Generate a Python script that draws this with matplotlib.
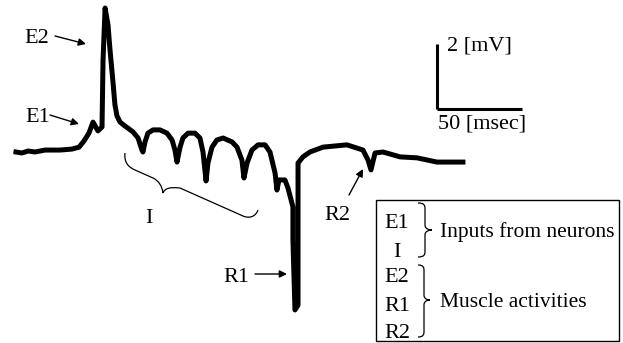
import numpy as np
import matplotlib.pyplot as plt
from matplotlib.path import Path
from matplotlib.patches import PathPatch, Rectangle

W, H = 623, 343

time_ms = [0, 3.5, 7.1, 11.2, 17.1, 25.9, 32.9, 37.1, 40.0, 42.9, 45.3, 48.2,
           50.6, 51.2, 52.4, 54.1, 55.3, 57.1, 58.2, 59.4, 61.2, 64.1, 68.8,
           71.8, 74.1, 74.7, 75.9, 77.6, 80.6, 84.7, 88.8, 91.8, 93.5, 94.7,
           96.5, 98.2, 101.2, 105.3, 108.2, 110.0, 111.8, 112.9, 115.3,
           118.2, 121.8, 127.1, 130.0, 132.9, 134.1, 135.9, 138.8, 142.4,
           146.5, 149.4, 152.4, 153.5, 154.7, 158.2, 160.0, 162.9, 162.9,
           164.1, 165.9, 165.9, 168.8, 172.9, 180.6, 194.7, 204.1, 207.1,
           208.8, 211.2, 215.9, 225.9, 235.9, 247.6, 262.9]
volt_mV = [0, -0.03, 0.03, 0, 0.06, 0.06, 0.09, 0.15, 0.34, 0.58, 0.92, 0.65,
           0.77, 2.83, 4.43, 3.92, 3.14, 2.12, 1.45, 1.11, 0.92, 0.80, 0.62,
           0.43, 0.06, 0, 0.31, 0.58, 0.68, 0.68, 0.58, 0.37, 0.06, -0.31,
           0.15, 0.43, 0.58, 0.58, 0.43, 0, -0.89, -0.34, 0.15, 0.37, 0.43,
           0.31, 0.15, -0.25, -0.80, -0.34, 0.06, 0.22, 0.22, 0, -0.65,
           -1.17, -0.86, -0.86, -1.11, -1.69, -2.71, -4.86, -4.71, -0.34,
           -0.15, 0, 0.15, 0.22, 0.06, -0.25, -0.55, -0.03, 0, -0.15, -0.18,
           -0.31, -0.31]

scale_ms = 50
scale_mV = 2
ms_per_px = 50 / 85
mV_per_px = 2 / 65


def fp(x, y):
    # pixel position (top-left origin) -> figure fraction
    return x / W, 1 - y / H


def px_path(verts, codes):
    return Path([fp(x, y) for x, y in verts], codes)


fig = plt.figure(figsize=(W / 100, H / 100), dpi=100)
ax = fig.add_axes([0, 0, 1, 1])
ax.set_xlim(-16 * ms_per_px, (W - 16) * ms_per_px)
ax.set_ylim(-(H - 152) * mV_per_px, 152 * mV_per_px)
ax.axis('off')

ax.plot(time_ms, volt_mV, color='black', lw=3.6, solid_joinstyle='round')

# scale bar
x0 = (437 - 16) * ms_per_px
y0 = (152 - 109) * mV_per_px
ax.plot([x0, x0], [y0, y0 + scale_mV], color='black', lw=2.2, solid_capstyle='butt')
ax.plot([x0, x0 + scale_ms], [y0, y0], color='black', lw=2.2, solid_capstyle='butt')

font = dict(family='Liberation Serif', size=16, color='black')
fig.text(*fp(447, 50), '2 [mV]', ha='left', va='baseline', **font)
fig.text(*fp(438, 129), '50 [msec]', ha='left', va='baseline', **font)

# labels with arrows
arrow = dict(arrowstyle='-|>', lw=1.0, color='black', mutation_scale=11,
             shrinkA=0, shrinkB=0)
labels = [('E2', (24, 43), (55, 36), (86, 44)),
          ('E1', (25, 122), (50, 115), (79, 124)),
          ('R1', (223, 282), (255, 274), (287, 274)),
          ('R2', (324, 220), (349, 195), (363, 169))]
for name, tpos, a0, a1 in labels:
    fig.text(*fp(*tpos), name, ha='left', va='baseline', **font)
    ax.annotate('', xy=fp(*a1), xytext=fp(*a0), xycoords='figure fraction',
                textcoords='figure fraction', arrowprops=arrow)
fig.text(*fp(149, 223), 'I', ha='center', va='baseline', **font)

# slanted brace under the I dips
C = Path.CURVE4
verts = [(125, 153), (124, 162), (128, 167), (135, 170), (153, 178),
         (159, 181), (162, 186), (163, 193), (165, 188), (170, 187),
         (180, 188), (243, 216), (250, 219), (256, 216), (258, 210)]
codes = [Path.MOVETO, C, C, C, Path.LINETO, C, C, C, C, C, C,
         Path.LINETO, C, C, C]
fig.add_artist(PathPatch(px_path(verts, codes), fill=False, lw=0.9,
                         transform=fig.transFigure))

# legend box
fig.add_artist(Rectangle(fp(376, 341), (619 - 376) / W, (341 - 200) / H,
                         fill=False, lw=1.0, transform=fig.transFigure))


def vbrace(x, top, bot, tip, w):
    mid = tip
    verts = [(x, top), (x + w * 0.5, top), (x + w * 0.5, top + 3),
             (x + w * 0.5, top + 6), (x + w * 0.5, mid - 5),
             (x + w * 0.5, mid - 1), (x + w * 0.8, mid), (x + w, mid),
             (x + w * 0.8, mid), (x + w * 0.5, mid + 1), (x + w * 0.5, mid + 5),
             (x + w * 0.5, bot - 6), (x + w * 0.5, bot - 3),
             (x + w * 0.5, bot), (x, bot)]
    codes = [Path.MOVETO, C, C, C, Path.LINETO, C, C, C, C, C, C,
             Path.LINETO, C, C, C]
    fig.add_artist(PathPatch(px_path(verts, codes), fill=False, lw=0.9,
                             transform=fig.transFigure))


legend_rows = ['E1', 'I', 'E2', 'R1', 'R2']
row_base = [228, 257, 282, 311, 338]
for name, yb in zip(legend_rows, row_base):
    fig.text(*fp(397, yb), name, ha='center', va='baseline', **font)

vbrace(418, 203, 257, 230, 14)
vbrace(418, 265, 337, 300, 12)
font_box = dict(font, size=15.5)
fig.text(*fp(440, 237), 'Inputs from neurons', ha='left', va='baseline', **font_box)
fig.text(*fp(440, 307), 'Muscle activities', ha='left', va='baseline', **font_box)

fig.savefig('out.png', dpi=100)
